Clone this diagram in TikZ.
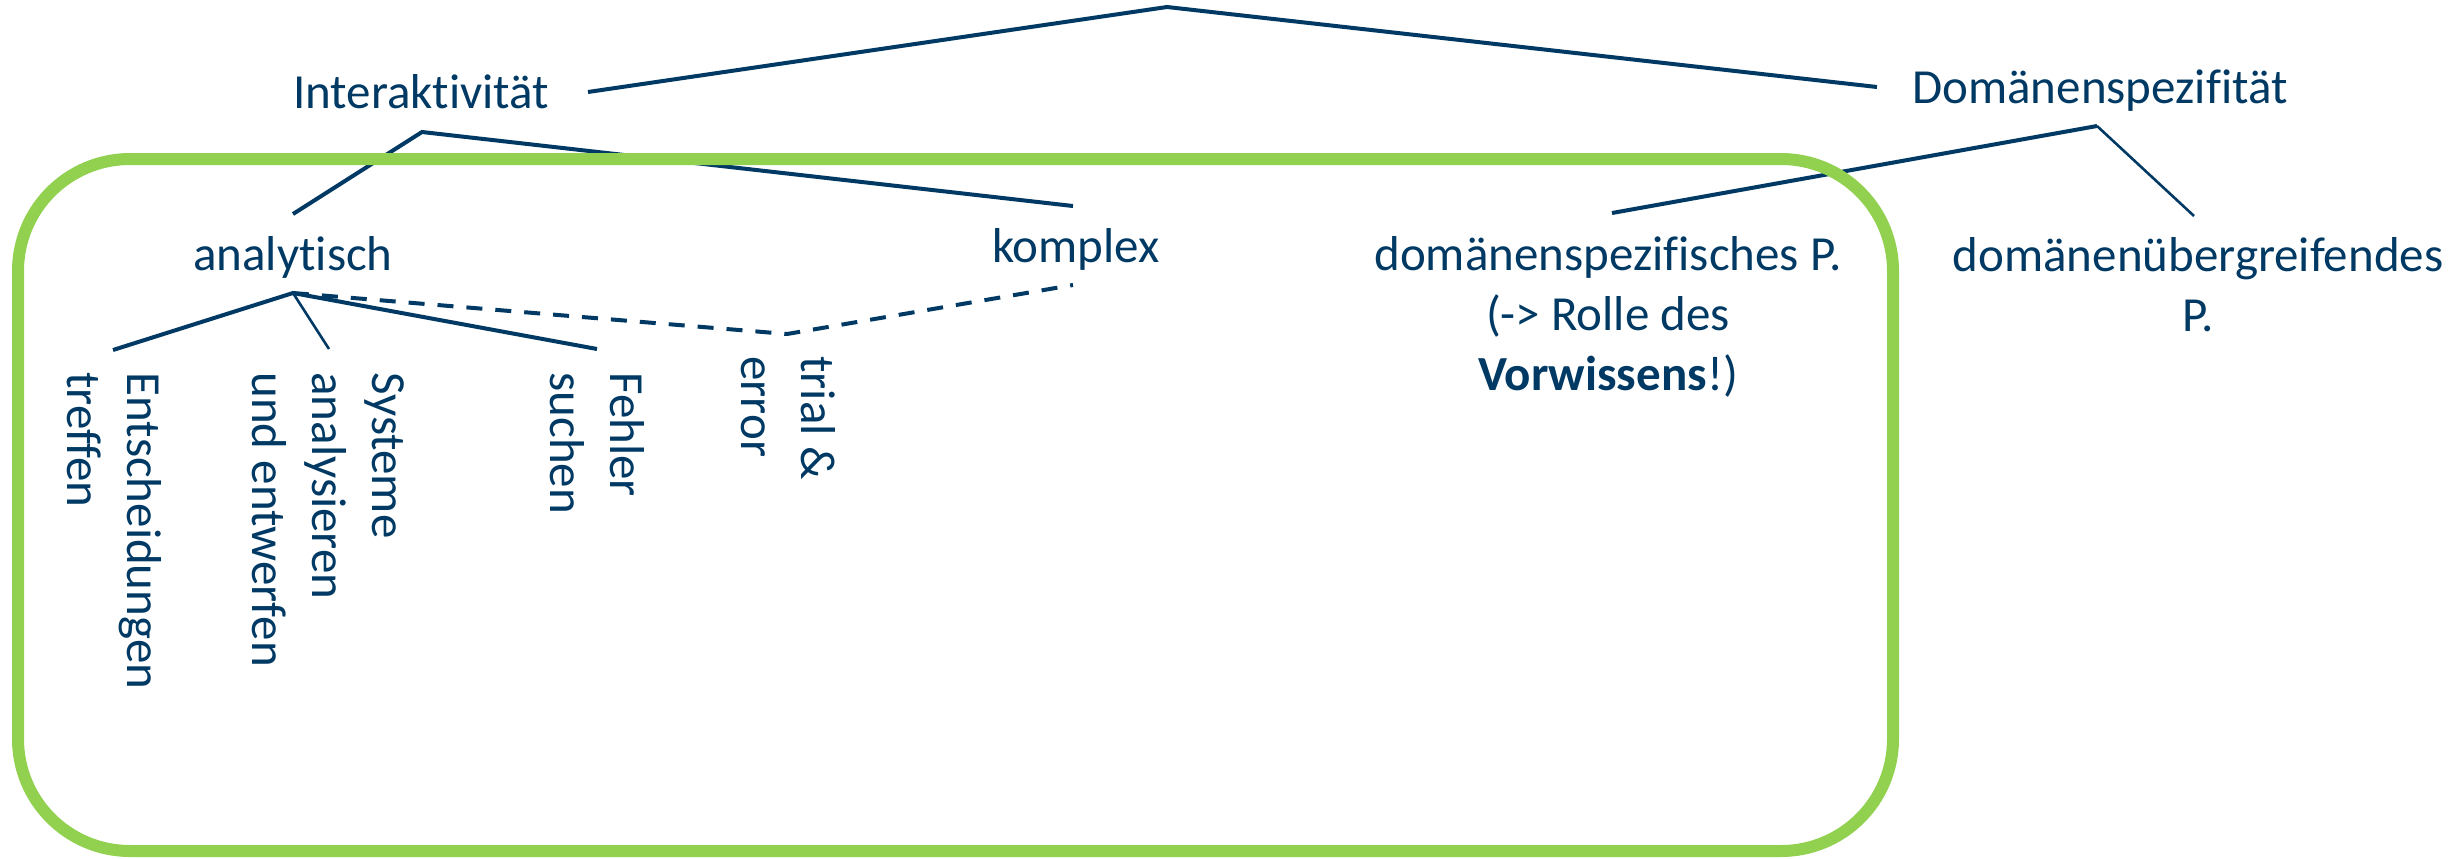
\documentclass[tikz,border=0pt]{standalone}
\usepackage{fontspec}
\setmainfont{Carlito}[Ligatures=NoCommon]
\definecolor{ink}{RGB}{0,57,99}
\definecolor{frame}{RGB}{146,208,80}

\begin{document}
\begin{tikzpicture}[x=0.5pt,y=-0.5pt,
  lbl/.style={inner sep=0pt, text=ink, font=\fontsize{24.5pt}{30pt}\selectfont, anchor=base},
  vlbl/.style={lbl, rotate=-90, anchor=base west, align=left},
  branch/.style={draw=ink, line width=2pt},
  twig/.style={draw=ink, line width=1.3pt},
  loose/.style={branch, dash pattern=on 8pt off 6.5pt}]
\useasboundingbox (0,0) rectangle (2458,858);

% labels (multi-line labels are placed by the baseline of their last line)
\node[lbl] (inter) at (421,108) {Interaktivität};
\node[lbl] (domsp) at (2100,103) {Domänenspezifität};
\node[lbl] (ana) at (293,270) {analytisch};
\node[lbl] (kom) at (1076,262) {komplex};
\node[lbl, align=center] (dspez) at (1608,390) {domänenspezifisches P.\\(-> Rolle des\\\textbf{Vorwissens}!)};
\node[lbl, align=center] (duebr) at (2198,331) {domänenübergreifendes\\P.};
\node[vlbl] (ent) at (67,372) {Entscheidungen\\treffen};
\node[vlbl] (sys) at (252,372) {Systeme\\analysieren\\und entwerfen};
\node[vlbl] (feh) at (550,372) {Fehler\\suchen};
\node[vlbl] (trial) at (741,356) {trial \&\\error};

% branch points and line ends
\coordinate (root) at (1167,7);
\coordinate (inter-r) at (588,92);
\coordinate (domsp-l) at (1877,87);
\coordinate (inter-fork) at (422,132);
\coordinate (ana-top) at (293,214);
\coordinate (kom-top) at (1073,206);
\coordinate (ana-fork) at (293,293);
\coordinate (ent-top) at (113,350);
\coordinate (sys-top) at (329,349);
\coordinate (feh-top) at (597,349);
\coordinate (trial-top) at (787,334);
\coordinate (kom-bot) at (1073,285);
\coordinate (domsp-fork) at (2097,126);
\coordinate (dspez-top) at (1612,213);
\coordinate (duebr-top) at (2194,216);

% tree
\draw[branch] (inter-r) -- (root) -- (domsp-l);
\draw[branch] (ana-top) -- (inter-fork) -- (kom-top);
\draw[branch] (ent-top) -- (ana-fork) -- (feh-top);
\draw[twig] (ana-fork) -- (sys-top);
\draw[loose] (ana-fork) -- (trial-top) -- (kom-bot);
\draw[branch] (dspez-top) -- (domsp-fork);
\draw[twig] (domsp-fork) -- (duebr-top);

% highlighted region
\draw[frame, line width=6pt, rounded corners=56pt] (18,159) rectangle (1893,851);
\end{tikzpicture}
\end{document}
